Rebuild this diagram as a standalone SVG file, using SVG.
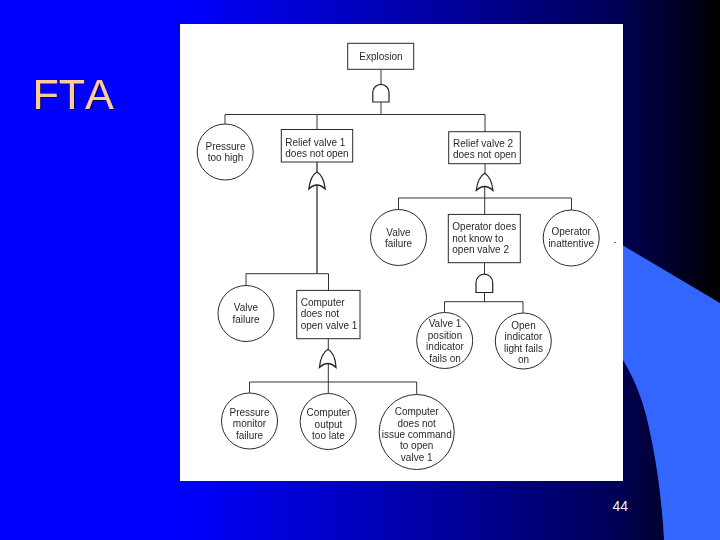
<svg xmlns="http://www.w3.org/2000/svg" width="720" height="540" viewBox="0 0 720 540">
<defs>
<linearGradient id="bg" x1="0" y1="0" x2="1" y2="0"><stop offset="0" stop-color="#0000ff"/><stop offset="0.25" stop-color="#0000ff"/><stop offset="0.633" stop-color="#00009a"/><stop offset="0.86" stop-color="#000055"/><stop offset="1" stop-color="#000000"/></linearGradient>
<filter id="soft" x="-5%" y="-5%" width="110%" height="110%"><feGaussianBlur stdDeviation="0.3"/></filter>
<filter id="shadow" x="-10%" y="-10%" width="120%" height="130%"><feDropShadow dx="1" dy="1" stdDeviation="0.5" flood-color="#000060"/></filter>
</defs>
<style>
.n{fill:#fff;stroke:#2a2a2a;stroke-width:1}
.g{fill:#fff;stroke:#222;stroke-width:1.2}
.c{stroke:#333;stroke-width:1;fill:none}
text.t{font-family:"Liberation Sans",Arial,sans-serif;font-size:10px;fill:#2a2a2a;text-anchor:middle}
text.l{text-anchor:start}
</style>
<rect width="720" height="540" fill="url(#bg)"/>
<path d="M623 245.500L720 303V540H664C662 500 656 455 646 415C640 392 632 375 623 360Z" fill="#3366ff"/>
<text x="32.500" y="108.500" font-family="'Liberation Sans',Arial,sans-serif" font-size="43" fill="#ffcc99" style="font-kerning:none" filter="url(#shadow)">FTA</text>
<text x="612.500" y="511" font-family="'Liberation Sans',Arial,sans-serif" font-size="14" fill="#f0f0f0">44</text>
<rect x="180" y="24" width="443" height="457" fill="#ffffff"/>
<rect x="614.500" y="242" width="1.500" height="1" fill="#555"/>
<g filter="url(#soft)">
<g id="connectors" class="c">
<path d="M381 69.300V84.500M381 102V114.500M225 114.500H485M225 114.500V124M317 114.500V129.500M485 114.500V132"/>
<path d="M317 162V172M317 184V273.700" stroke-width="1.300"/>
<path d="M485 163.700V173.500M484.700 186V214.500M398.500 198H571.500M398.500 198V209.500M571.500 198V210"/>
<path d="M484.500 262.700V274M484.500 292.500V301.700M444.500 301.700H523M444.500 301.700V312.500M523 301.700V313"/>
<path d="M246 273.700H328.500M246 273.700V285.500M328.500 273.700V290.500"/>
<path d="M328.300 338.700V349.500M328.300 363V393.500M249.500 382H416.700M249.500 382V393M416.700 382V394"/>
</g>
<g id="explosion"><rect class="n" x="347.700" y="43.300" width="66" height="26"/><text class="t" x="381" y="60">Explosion</text></g>
<g id="gate-and-top"><path class="g" d="M372.800 102V92.500A8.100 8.100 0 0 1 389 92.500V102Z"/></g>
<g id="pressure-too-high"><circle class="n" cx="225.200" cy="152" r="28"/><text class="t" x="225.500" y="150">Pressure</text><text class="t" x="225.500" y="161">too high</text></g>
<g id="relief-valve-1"><rect class="n" x="281.300" y="129.500" width="71.400" height="32.500"/><text class="t l" x="285.300" y="145.700">Relief valve 1</text><text class="t l" x="285.300" y="156.700">does not open</text></g>
<g id="gate-or-1"><path class="g" d="M308.800 189C310 179 312.500 174.500 317 172C321.500 174.500 324 179 325.200 189Q317 181 308.800 189Z"/></g>
<g id="relief-valve-2"><rect class="n" x="448.700" y="131.700" width="71.600" height="32" stroke-width="1.300"/><text class="t l" x="453" y="147.300">Relief valve 2</text><text class="t l" x="453" y="158.300">does not open</text></g>
<g id="gate-or-2"><path class="g" d="M476.200 190.500C477.500 180.500 480 176 484.700 173.300C489.400 176 491.800 180.500 493 190.500Q484.700 182.500 476.200 190.500Z"/></g>
<g id="valve-failure-2"><circle class="n" cx="398.500" cy="237.500" r="28"/><text class="t" x="398.500" y="235.700">Valve</text><text class="t" x="398.500" y="247.300">failure</text></g>
<g id="operator-does-not-know"><rect class="n" x="448.300" y="214.400" width="72" height="48.300"/><text class="t l" x="452.300" y="230">Operator does</text><text class="t l" x="452.300" y="241.700">not know to</text><text class="t l" x="452.300" y="253.300">open valve 2</text></g>
<g id="operator-inattentive"><circle class="n" cx="571.200" cy="238" r="28"/><text class="t" x="571.200" y="235">Operator</text><text class="t" x="571.200" y="247.300">inattentive</text></g>
<g id="gate-and-2"><path class="g" d="M476 292.500V282.500A8.300 8.300 0 0 1 492.700 282.500V292.500Z"/></g>
<g id="valve-1-position"><circle class="n" cx="444.700" cy="340.500" r="28"/><text class="t" x="445" y="327.300">Valve 1</text><text class="t" x="445" y="339.300">position</text><text class="t" x="445" y="350.300">indicator</text><text class="t" x="445" y="361.700">fails on</text></g>
<g id="open-indicator"><circle class="n" cx="523.300" cy="341" r="28"/><text class="t" x="523.500" y="329">Open</text><text class="t" x="523.500" y="340.300">indicator</text><text class="t" x="523.500" y="352">light fails</text><text class="t" x="523.500" y="362.700">on</text></g>
<g id="valve-failure-1"><circle class="n" cx="246" cy="313.500" r="28"/><text class="t" x="246" y="311.300">Valve</text><text class="t" x="246" y="322.700">failure</text></g>
<g id="computer-does-not-open"><rect class="n" x="296.700" y="290.400" width="63.300" height="48.300"/><text class="t l" x="300.700" y="305.700">Computer</text><text class="t l" x="300.700" y="316.700">does not</text><text class="t l" x="300.700" y="328.700">open valve 1</text></g>
<g id="gate-or-3"><path class="g" d="M319.400 367.500C320.500 357.500 323 352 328 349.300C333 352 335.500 357.500 336 367.500Q328 359.500 319.400 367.500Z"/></g>
<g id="pressure-monitor"><circle class="n" cx="249.500" cy="421" r="28"/><text class="t" x="249.500" y="416">Pressure</text><text class="t" x="249.500" y="427">monitor</text><text class="t" x="249.500" y="438.700">failure</text></g>
<g id="computer-output"><circle class="n" cx="328.200" cy="421.500" r="28"/><text class="t" x="328.500" y="416">Computer</text><text class="t" x="328.500" y="427.700">output</text><text class="t" x="328.500" y="439.300">too late</text></g>
<g id="computer-does-not-issue"><circle class="n" cx="416.700" cy="432" r="37.500"/><text class="t" x="416.700" y="415">Computer</text><text class="t" x="416.700" y="426.700">does not</text><text class="t" x="416.700" y="438">issue command</text><text class="t" x="416.700" y="449.300">to open</text><text class="t" x="416.700" y="460.700">valve 1</text></g>
</g>
</svg>
